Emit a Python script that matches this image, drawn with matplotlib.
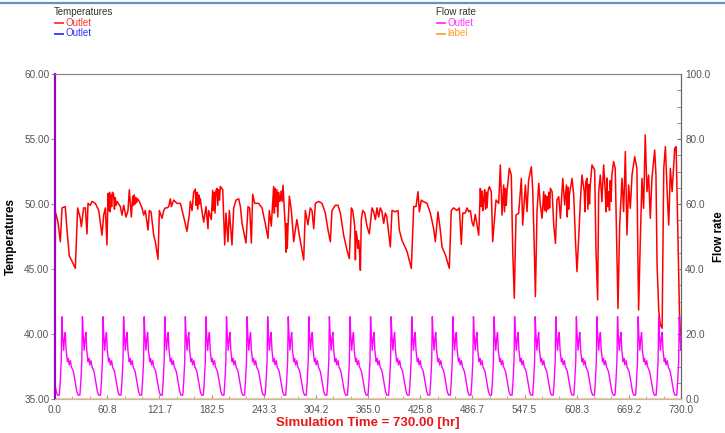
import numpy as np
import matplotlib
matplotlib.use('Agg')
import matplotlib.pyplot as plt
from matplotlib.lines import Line2D
from matplotlib.ticker import FixedLocator, MultipleLocator, FormatStrFormatter

plt.rcParams['font.family'] = ['Liberation Sans', 'DejaVu Sans']

# temperatura na wylocie [C] w funkcji czasu [hr]
temp_hours = [
    0.0, 0.4, 3.5, 6.2, 8.2, 12.0, 14.0, 16.7, 19.8, 23.7, 26.4, 29.5, 30.7, 33.4, 35.4, 37.3,
    38.5, 41.2, 43.1, 47.0, 51.0, 54.8, 56.8, 58.7, 60.6, 61.8, 62.8, 63.6, 64.4, 65.2, 66.0,
    67.0, 68.4, 69.3, 70.2, 71.2, 72.3, 76.2, 78.1, 80.1, 82.8, 85.1, 86.7, 89.0, 90.6, 91.5,
    92.4, 93.3, 94.2, 95.1, 96.2, 98.3, 101.5, 103.4, 105.3, 108.5, 110.0, 112.0, 115.1, 117.0,
    120.1, 121.7, 124.8, 126.8, 128.6, 130.6, 132.6, 134.5, 135.7, 138.4, 142.3, 146.2, 150.1,
    153.9, 156.6, 157.8, 159.8, 161.7, 163.6, 164.5, 165.5, 166.5, 167.6, 168.5, 169.5, 170.6,
    173.4, 176.1, 178.4, 179.2, 182.3, 183.9, 184.8, 185.7, 186.6, 187.6, 188.9, 189.8, 190.8,
    191.8, 192.8, 195.6, 197.9, 199.4, 201.7, 203.3, 206.4, 208.4, 211.1, 214.2, 216.2, 218.1,
    222.7, 225.1, 227.0, 229.0, 230.5, 232.9, 237.5, 241.4, 245.2, 248.4, 249.9, 252.2, 255.0,
    255.8, 256.7, 257.6, 258.8, 259.8, 260.7, 261.7, 262.7, 263.7, 264.8, 265.9, 268.6, 269.4,
    270.2, 270.9, 271.7, 273.3, 275.6, 278.4, 280.2, 282.1, 284.9, 290.0, 291.9, 295.0, 297.7,
    299.7, 301.7, 303.6, 307.5, 311.4, 315.2, 318.4, 321.1, 323.0, 326.9, 330.0, 332.8, 336.6,
    340.5, 343.2, 345.6, 347.2, 349.5, 350.3, 351.0, 352.2, 353.0, 354.2, 355.2, 356.1, 357.2,
    358.8, 361.2, 363.8, 366.5, 369.7, 371.6, 373.6, 375.5, 377.4, 379.4, 381.3, 383.3, 385.2,
    387.0, 391.0, 393.0, 396.9, 400.0, 401.5, 404.7, 410.5, 415.5, 418.3, 421.0, 423.3, 424.9,
    427.2, 429.2, 433.8, 437.7, 441.6, 443.5, 446.6, 449.3, 451.3, 455.2, 459.8, 462.1, 464.8,
    468.8, 471.5, 473.8, 475.5, 478.4, 480.5, 482.4, 484.4, 486.3, 488.0, 490.1, 494.1, 496.0,
    497.0, 498.0, 499.0, 500.0, 501.0, 502.0, 503.0, 503.8, 505.0, 506.5, 508.8, 510.4, 512.3,
    514.3, 517.4, 519.3, 521.3, 523.2, 524.2, 525.2, 526.2, 527.1, 529.8, 532.1, 533.8, 535.6,
    537.6, 540.7, 543.8, 545.4, 548.5, 550.4, 552.3, 555.5, 557.1, 559.0, 560.2, 562.1, 564.1,
    566.0, 568.0, 569.9, 570.9, 571.9, 572.9, 573.8, 574.8, 575.8, 576.8, 577.7, 579.7, 581.6,
    583.6, 585.4, 587.4, 589.4, 592.1, 594.4, 596.4, 597.3, 598.2, 599.0, 599.8, 602.9, 604.9,
    606.9, 608.7, 610.7, 612.6, 614.5, 617.2, 618.0, 619.0, 620.4, 621.4, 622.4, 623.3, 624.2,
    626.2, 629.3, 630.9, 632.8, 634.0, 635.9, 637.8, 639.8, 641.7, 642.7, 643.7, 644.6, 645.6,
    646.6, 647.5, 648.5, 649.4, 651.4, 653.3, 655.4, 656.5, 658.5, 661.2, 663.1, 665.1, 667.0,
    668.9, 670.9, 672.9, 676.0, 678.6, 679.8, 680.6, 682.5, 684.5, 686.4, 688.3, 690.3, 692.2,
    694.2, 696.1, 699.3, 700.8, 702.1, 704.1, 706.0, 708.0, 709.9, 711.8, 713.8, 715.7, 717.6,
    719.6, 722.7, 724.3, 726.6, 728.2, 729.4, 730.0]
temp_values = [
    35.5, 49.4, 48.6, 47.1, 49.7, 49.8, 48.0, 46.0, 45.6, 45.05, 49.7, 48.9, 48.25, 49.7, 49.7, 47.7,
    50.05, 49.9, 50.2, 50.05, 49.5, 47.6, 49.15, 49.7, 46.85, 50.8, 49.5, 50.9, 49.4, 50.7, 49.8,
    50.9, 50.7, 49.6, 50.5, 49.9, 50.2, 49.8, 49.15, 49.9, 49.0, 49.5, 51.1, 49.0, 50.6, 49.9,
    50.7, 50.0, 50.5, 50.1, 50.4, 50.2, 49.7, 49.15, 49.5, 48.0, 49.5, 49.4, 47.6, 47.1,
    45.75, 49.5, 48.9, 49.5, 49.7, 49.7, 49.8, 50.4, 49.8, 50.3, 50.05, 50.05, 49.0,
    47.9, 49.15, 50.2, 49.5, 50.9, 51.15, 49.9, 50.9, 49.6, 50.7, 50.0, 50.4, 49.8,
    48.6, 49.8, 48.1, 49.5, 48.8, 51.05, 49.5, 50.9, 49.3, 51.0, 51.2, 49.9, 51.1,
    50.3, 51.35, 51.1, 46.85, 49.3, 47.1, 49.5, 46.85, 49.7, 50.3, 50.4, 49.8, 48.5,
    47.0, 49.8, 49.7, 47.0, 50.75, 50.05, 50.05, 49.7, 48.5, 47.35, 49.5, 48.3, 51.35,
    49.3, 51.2, 49.8, 51.1, 49.0, 50.9, 50.2, 50.3, 51.0, 50.2, 51.45, 48.1, 46.3,
    48.5, 46.6, 48.26, 50.6, 49.5, 47.1, 48.0, 48.8, 47.6, 45.7, 49.5, 48.4, 49.7,
    49.5, 48.1, 50.05, 50.2, 50.05, 49.3, 48.0, 47.1, 49.5, 49.9, 49.9, 49.3, 47.6,
    46.45, 45.8, 49.7, 49.5, 48.3, 45.7, 47.9, 47.5, 46.6, 47.2, 46.2, 44.9, 48.8,
    49.5, 49.3, 48.3, 47.7, 49.7, 49.4, 48.8, 49.7, 49.0, 49.7, 49.4, 48.5, 49.3,
    49.0, 46.7, 49.5, 49.4, 49.5, 48.0, 47.2, 46.35, 45.05, 49.8, 49.8, 50.95, 49.4,
    50.3, 50.2, 50.05, 49.3, 48.1, 47.1, 49.4, 48.0, 46.7, 46.1, 45.05, 49.5, 49.7,
    49.5, 49.7, 46.9, 49.3, 49.3, 49.7, 49.4, 49.5, 48.6, 48.3, 49.2, 47.6, 51.2,
    49.8, 51.0, 49.5, 50.4, 51.1, 49.6, 50.9, 49.7, 51.0, 51.33, 50.95, 47.1, 48.64,
    50.31, 50.05, 53.0, 49.15, 51.46, 49.4, 51.2, 49.9, 50.95, 52.75, 52.23, 46.33, 42.75,
    49.15, 49.28, 51.97, 48.38, 51.46, 49.41, 51.85, 52.87, 51.08, 46.33, 42.87, 49.41, 51.59,
    49.92, 48.9, 50.95, 49.5, 50.7, 49.4, 50.56, 49.6, 50.9, 49.7, 51.21, 50.95, 48.38,
    46.97, 50.31, 50.56, 48.9, 51.97, 49.92, 51.46, 49.0, 51.3, 49.6, 50.69, 51.97, 50.69,
    47.23, 44.8, 47.36, 50.18, 52.23, 50.95, 49.4, 51.7, 51.97, 49.6, 51.5, 50.0, 51.46,
    53.0, 52.62, 46.33, 42.62, 50.95, 52.23, 50.18, 53.0, 50.95, 49.4, 52.0, 49.8, 50.95,
    49.5, 51.8, 50.2, 52.23, 53.26, 52.74, 45.82, 41.97, 48.38, 51.97, 49.41, 54.03, 47.62,
    51.46, 49.67, 52.23, 53.64, 52.74, 45.44, 41.85, 47.1, 51.97, 49.67, 55.31, 50.95, 52.23,
    48.9, 51.97, 54.15, 52.23, 45.31, 41.72, 40.69, 40.44, 52.74, 54.41, 50.95, 48.38, 52.74,
    50.95, 54.28, 54.41, 47.1, 41.72, 39.92, 40.0]

# dobowy profil przeplywu (godzina doby, przeplyw)
flow_day_hours = [0.0, 1.5, 3.0, 5.0, 6.0, 7.3, 8.0, 8.8, 10.0, 11.0, 12.0, 13.0,
                  14.5, 15.5, 16.5, 18.0, 19.0, 21.5, 23.5]
flow_day_values = [4.4, 2.2, 1.2, 1.2, 4.8, 11.8, 25.3, 20.0, 15.0, 18.5, 20.5, 15.0,
                   11.5, 12.5, 10.5, 11.8, 10.0, 8.4, 5.3]

sim_time = 730.0
x_ticks = np.linspace(0, sim_time, 13)

# pelny przebieg przeplywu - profil dobowy powtarzany co 24 h
flow_hours = []
flow_values = []
for dzien in range(31):
    for h, v in zip(flow_day_hours, flow_day_values):
        t = dzien * 24 + h
        if t <= sim_time:
            flow_hours.append(t)
            flow_values.append(v)
flow_hours.append(sim_time)
flow_values.append(17.0)

W, H = 725, 433
fig = plt.figure(figsize=(W / 100, H / 100), dpi=100)
ax = fig.add_axes([55 / W, 1 - 399 / H, (681 - 55) / W, (399 - 74) / H])
ax2 = ax.twinx()

ax.plot(temp_hours, temp_values, color='#ff0000', lw=1.1)
ax2.plot(flow_hours, flow_values, color='#ff00ff', lw=1.0)
ax2.plot([0, sim_time], [0, 0], color='#ffb060', lw=1.5, alpha=0.7)

ax.set_xlim(0, sim_time)
ax.set_ylim(35, 60)
ax2.set_ylim(0, 100)

szary = '#555555'
ax.set_xticks(x_ticks)
ax.set_xticklabels([f'{v:.1f}' for v in x_ticks])
ax.xaxis.set_minor_locator(FixedLocator(np.linspace(0, sim_time, 37)))
ax.set_yticks(np.arange(35, 61, 5))
ax.yaxis.set_major_formatter(FormatStrFormatter('%.2f'))
ax2.set_yticks(np.arange(0, 101, 20))
ax2.yaxis.set_major_formatter(FormatStrFormatter('%.1f'))
ax2.yaxis.set_minor_locator(MultipleLocator(5))

ax.tick_params(axis='x', which='both', direction='in', length=3, labelsize=7.2,
               labelcolor=szary, color='#999999', pad=4.5)
ax.tick_params(axis='x', which='minor', length=2)
ax.tick_params(axis='y', direction='out', length=3, labelsize=7.2, labelcolor=szary,
               color='#999999', pad=1)
ax2.tick_params(axis='y', which='both', direction='in', length=3, labelsize=7.2,
                labelcolor=szary, color='#777777', pad=3)

for a in (ax, ax2):
    a.spines['top'].set_color('#888888')
    a.spines['right'].set_color('#666666')
    a.spines['bottom'].set_color('#bbbbbb')
    a.spines['left'].set_color('#9a00c8')
    a.spines['left'].set_linewidth(1.5)

ax.set_xlabel('Simulation Time = 730.00 [hr]', color='#e81818', fontsize=9.5,
              fontweight='bold', labelpad=1)
ax.set_ylabel('Temperatures', fontsize=8.5, fontweight='bold')
ax2.set_ylabel('Flow rate', fontsize=8.3, fontweight='bold')
ax.yaxis.set_label_coords((17 - 55) / 626, 0.5)
ax2.yaxis.set_label_coords((713 - 55) / 626, 0.5)

# pasek u gory
fig.add_artist(Line2D([0, 1], [1 - 3 / H, 1 - 3 / H], color='#6a8fc8', lw=1.6))


def legenda(x, tytul, wpisy):
    fig.text(x / W, 1 - 12 / H, tytul, fontsize=7, color='#333333', va='center')
    for i, (kolor, opis) in enumerate(wpisy):
        y = 1 - (23 + 10.5 * i) / H
        fig.add_artist(Line2D([(x + 1) / W, (x + 9) / W], [y, y], color=kolor, lw=1.3))
        fig.text((x + 11) / W, y, opis, fontsize=7, color=kolor, va='center')


legenda(54, 'Temperatures', [('#ff3030', 'Outlet'), ('#3030ff', 'Outlet')])
legenda(436, 'Flow rate', [('#ff30ff', 'Outlet'), ('#ffa030', 'label')])

fig.savefig('out.png', dpi=100)
